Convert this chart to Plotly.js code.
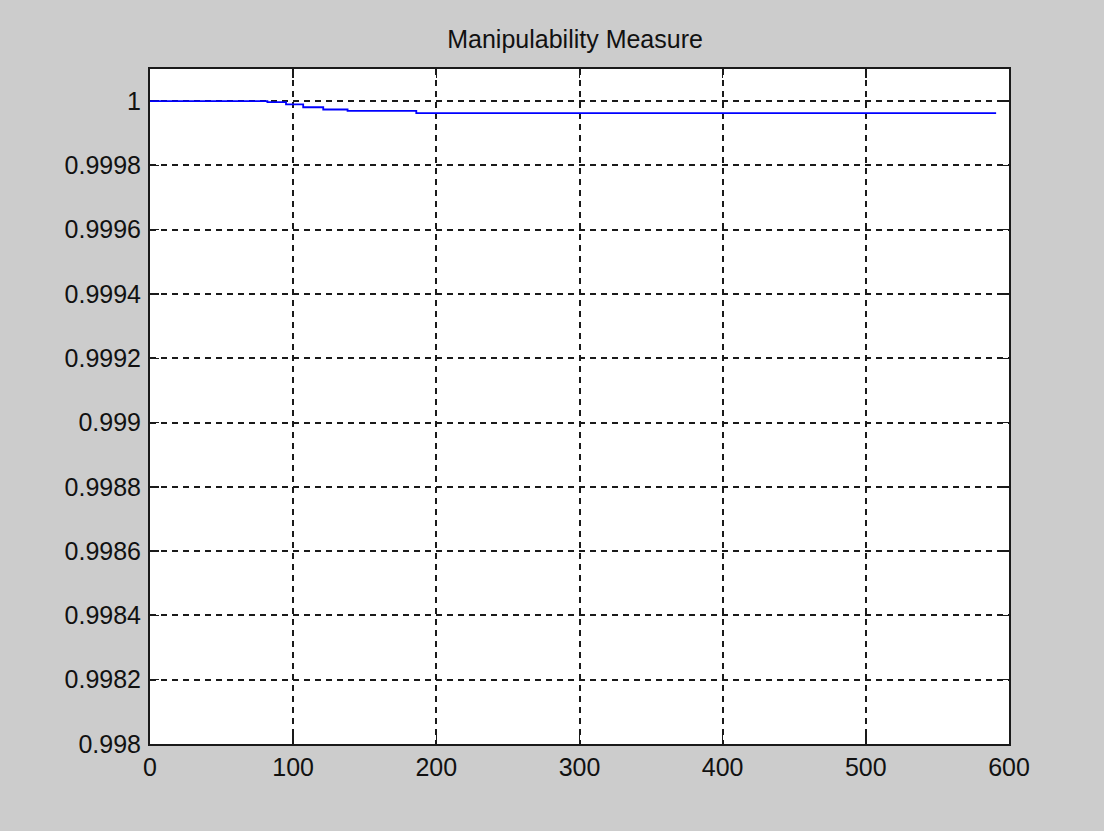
<!DOCTYPE html>
<html>
<head>
<meta charset="utf-8">
<script src="https://cdn.plot.ly/plotly-3.0.1.min.js"></script>
<style>
  html, body { margin: 0; padding: 0; background: #cccccc; }
  #chart { width: 1104px; height: 831px; }
</style>
</head>
<body>
<div id="chart"></div>
<script>
// Manipulability measure over the trajectory (step changes at sample indices)
const sampleIndex = [0, 82, 95, 107, 121, 138, 186, 591];
const manipulability = [1.0, 0.999997, 0.99999, 0.999981, 0.999974, 0.99997, 0.999963, 0.999963];

const xTickVals = [0, 100, 200, 300, 400, 500, 600];
const yTickVals = [0.998, 0.9982, 0.9984, 0.9986, 0.9988, 0.999, 0.9992, 0.9994, 0.9996, 0.9998, 1];
const yTickLabels = ['0.998', '0.9982', '0.9984', '0.9986', '0.9988', '0.999', '0.9992', '0.9994', '0.9996', '0.9998', '1'];

const tickFont = { family: 'Liberation Sans, Arial, sans-serif', size: 25, color: '#111111' };

const axisCommon = {
  showline: true,
  linecolor: '#1a1a1a',
  linewidth: 2,
  mirror: 'ticks',
  ticks: 'inside',
  ticklen: 9,
  tickwidth: 1.5,
  tickcolor: '#1a1a1a',
  showgrid: true,
  gridcolor: '#1a1a1a',
  gridwidth: 2,
  griddash: '6px,5px',
  zeroline: false,
  tickfont: tickFont
};

const trace = {
  x: sampleIndex,
  y: manipulability,
  type: 'scatter',
  mode: 'lines',
  line: { color: '#0000ff', width: 1.8, shape: 'hv' },
  hoverinfo: 'x+y'
};

const layout = {
  width: 1104,
  height: 831,
  paper_bgcolor: '#cccccc',
  plot_bgcolor: '#ffffff',
  showlegend: false,
  margin: { l: 150, r: 95, t: 69, b: 87 },
  title: {
    text: 'Manipulability Measure',
    font: { family: 'Liberation Sans, Arial, sans-serif', size: 25, color: '#111111' },
    x: 0.5209,
    xanchor: 'center',
    yref: 'container',
    y: 1 - 39 / 831,
    yanchor: 'middle'
  },
  xaxis: Object.assign({}, axisCommon, {
    range: [0, 600],
    tickvals: xTickVals,
    ticklabelstandoff: 0
  }),
  yaxis: Object.assign({}, axisCommon, {
    range: [0.998, 1.0001],
    tickvals: yTickVals,
    ticktext: yTickLabels,
    ticklabelstandoff: 2,
    layer: 'below traces'
  })
};

Plotly.newPlot('chart', [trace], layout, { displayModeBar: false, staticPlot: true });
</script>
</body>
</html>
